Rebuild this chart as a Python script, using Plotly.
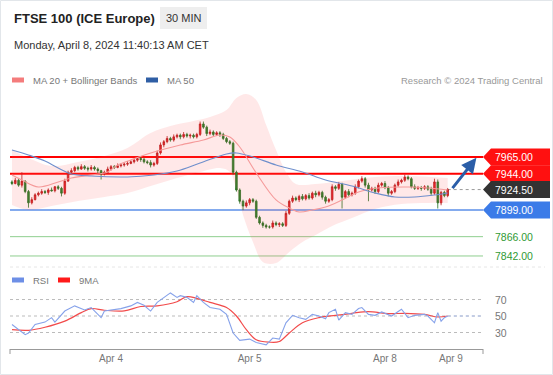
import plotly.graph_objects as go

W, H = 553, 375

# ---------------- data ----------------
first_open = 7934
closes = [7932, 7936, 7930, 7935, 7922, 7908, 7912, 7918, 7920, 7922,
          7921, 7924, 7923, 7928, 7926, 7920, 7935, 7946, 7948, 7952,
          7950, 7953, 7951, 7950, 7952, 7950, 7948, 7944, 7946, 7950,
          7953, 7952, 7954, 7955, 7956, 7957, 7959, 7961, 7963, 7962,
          7959, 7958, 7955, 7957, 7970, 7980, 7984, 7988, 7986, 7990,
          7992, 7990, 7993, 7991, 7992, 7990, 7993, 8006, 8002, 7994,
          7996, 7993, 7995, 7993, 7988, 7984, 7982, 7946, 7924, 7910,
          7904, 7908, 7912, 7910, 7890, 7883, 7880, 7878, 7878, 7883,
          7881, 7882, 7880, 7895, 7910, 7914, 7912, 7916, 7913, 7917,
          7914, 7920, 7918, 7921, 7915, 7910, 7912, 7928, 7926, 7931,
          7915, 7922, 7918, 7920, 7928, 7935, 7938, 7930, 7924, 7926,
          7922, 7930, 7932, 7927, 7920, 7922, 7930, 7934, 7936, 7940,
          7938, 7928, 7926, 7927, 7926, 7928, 7925, 7920, 7934, 7908,
          7921, 7917, 7924.5]
upper_wick = [2, 3, 2, 11, 1, 2, 3, 2, 2, 3,
              2, 2, 3, 1, 2, 2, 3, 2, 3, 2,
              2, 3, 2, 2, 3, 2, 2, 1, 2, 3,
              2, 2, 3, 2, 2, 3, 2, 2, 3, 2,
              2, 2, 3, 2, 3, 3, 2, 3, 2, 3,
              2, 2, 3, 2, 2, 2, 2, 3, 3, 2,
              3, 2, 2, 2, 2, 2, 2, 2, 2, 2,
              2, 3, 2, 2, 2, 2, 2, 2, 2, 3,
              2, 2, 2, 3, 2, 3, 2, 2, 3, 2,
              3, 2, 3, 2, 2, 2, 2, 3, 2, 3,
              2, 2, 3, 2, 3, 2, 3, 2, 3, 2,
              2, 3, 2, 3, 2, 2, 2, 3, 2, 3,
              2, 2, 3, 2, 2, 2, 2, 3, 4, 3,
              2, 2, 2]
lower_wick = [2, 1, 2, 3, 2, 6, 2, 1, 2, 2,
              2, 3, 1, 2, 2, 4, 2, 1, 2, 2,
              2, 1, 2, 3, 2, 2, 3, 7, 2, 2,
              2, 2, 1, 2, 2, 2, 1, 2, 2, 3,
              2, 2, 3, 2, 2, 2, 3, 2, 2, 2,
              2, 3, 2, 2, 3, 2, 2, 2, 2, 3,
              2, 2, 2, 3, 2, 2, 2, 3, 2, 3,
              5, 2, 3, 2, 2, 2, 3, 2, 2, 2,
              2, 3, 2, 2, 2, 2, 2, 3, 2, 2,
              2, 2, 3, 2, 3, 3, 2, 2, 3, 2,
              14, 2, 3, 2, 2, 2, 2, 3, 14, 2,
              3, 2, 2, 2, 4, 2, 2, 2, 2, 2,
              2, 2, 2, 2, 3, 2, 2, 3, 2, 7,
              3, 2, 2]

ma20_idx = [0, 3, 8, 14, 18, 24, 29, 32, 36, 43, 51, 58, 63, 66, 69, 74, 80, 84, 87, 91, 95, 100, 105, 111, 120, 126, 132]
ma20_val = [7942.6, 7936.4, 7927.7, 7933.9, 7938.9, 7942.6, 7946.4, 7955.1, 7961.3, 7971.2, 7979.9, 7986.1,
            7992.3, 7989.8, 7977.4, 7945.1, 7911.6, 7901.6, 7896.7, 7899.2, 7902.9, 7911.6, 7921.5, 7926.5,
            7927.7, 7926.5, 7924.0]

bb_up_idx = [0, 5, 12, 20, 28, 35, 42, 48, 55, 60, 65, 68, 71, 74, 77, 80, 83, 86, 92, 100, 110, 120, 132]
bb_up_val = [7973.7, 7963.8, 7953.8, 7958.8, 7966.2, 7976.2, 7994.8, 8003.5, 8009.7, 8014.7, 8023.4, 8038.3,
             8043.3, 8035.8, 8004.8, 7973.7, 7946.4, 7931.5, 7931.5, 7935.2, 7940.2, 7941.4, 7938.9]
bb_lo_idx = [0, 5, 12, 20, 28, 35, 43, 50, 57, 63, 66, 68, 70, 73, 76, 80, 84, 88, 92, 97, 103, 110, 118, 126, 132]
bb_lo_val = [7905.4, 7899.2, 7904.1, 7910.3, 7915.3, 7920.3, 7930.2, 7938.9, 7946.4, 7951.3, 7946.4, 7924.0,
             7893.0, 7859.4, 7834.6, 7833.3, 7847.0, 7859.4, 7868.1, 7879.3, 7889.2, 7900.4, 7906.6, 7907.9, 7907.9]

ma50_idx = [0, 5, 10, 14, 18, 24, 35, 43, 50, 57, 65, 68, 73, 80, 88, 95, 103, 110, 116, 122, 128, 132]
ma50_val = [7973.7, 7967.5, 7960.0, 7951.3, 7943.9, 7941.4, 7940.2, 7942.6, 7947.6, 7957.5, 7968.7, 7970.0,
            7965.0, 7955.1, 7946.4, 7936.4, 7929.0, 7920.3, 7915.3, 7915.3, 7917.8, 7920.3]

rsi_idx = [0, 2, 4, 5, 7, 10, 12, 13, 16, 19, 22, 24, 27, 28, 31, 33, 36, 38, 40, 42, 44, 46, 48, 50, 51,
           53, 55, 56, 58, 60, 63, 65, 67, 69, 72, 74, 77, 79, 81, 83, 85, 87, 89, 91, 93, 95, 96, 98, 99,
           101, 103, 105, 106, 108, 110, 112, 114, 115, 118, 120, 122, 125, 126, 128, 129, 130, 131, 132]
rsi_val = [39.7, 33.5, 27.4, 29.4, 39.7, 42.6, 48, 42.6, 56, 62.3, 57.4, 60.3, 48, 56, 57.4, 59, 62.3, 66.5,
           63, 56, 66.5, 72.6, 78, 72.6, 74.7, 72.6, 66.5, 74.7, 66.5, 60.3, 58.2, 52, 29.4, 20.4, 22, 17.9,
           15, 23.3, 22, 41.8, 50.8, 48, 45.9, 52, 50, 46.7, 54.1, 58.2, 45, 54.1, 52, 59, 60.3, 52, 50.8,
           54.9, 52, 50, 58.2, 48, 50.8, 52, 50, 41.8, 54.1, 43.8, 48, 50]
ma9_idx = [0, 5, 10, 16, 21, 24, 28, 34, 39, 44, 50, 53, 56, 60, 65, 68, 71, 74, 78, 81, 84, 88, 93, 98, 103,
           108, 114, 119, 125, 129, 132]
ma9_val = [33.5, 32.7, 36.4, 43.8, 54.1, 59, 57, 56.2, 61.5, 62.3, 67.3, 73.5, 71.4, 66.5, 60.3, 50, 33.5,
           21.2, 18.3, 19.1, 29.4, 41.8, 48, 50.8, 53.3, 55.3, 52.9, 53.3, 52, 48.8, 50]

tick_vals = [30, 72, 113, 133]
tick_text = ["Apr 4", "Apr 5", "Apr 8", "Apr 9"]

resistance = [7965.00, 7944.00]
last_price = 7924.50
pivot = 7899.00
supports = [7866.00, 7842.00]
rsi_levels = [70, 50, 30]

# ---------------- derived ----------------
n = len(closes)
idx = list(range(n))
opens = [first_open] + closes[:-1]
highs = [max(o, c) + u for o, c, u in zip(opens, closes, upper_wick)]
lows = [min(o, c) - l for o, c, l in zip(opens, closes, lower_wick)]

X0, X1 = 10, 483                # px of plot area
PY0, PY1 = 92, 265              # price panel px (top, bottom)
RY0, RY1 = 285, 349             # rsi panel px
x_range = [-0.6, 142.7]
p_range = [7830.8, 8045.7]
r_range = [10, 87.6]
ppp = (p_range[1] - p_range[0]) / (PY1 - PY0)   # price per pixel

def px(x):
    return x / W

def py(y):
    return 1 - y / H

FONT = "Liberation Sans, Arial, sans-serif"

fig = go.Figure()

# Bollinger band fill
fig.add_trace(go.Scatter(x=bb_up_idx, y=bb_up_val, mode="lines", line=dict(width=0, shape="spline", smoothing=1.0),
                         hoverinfo="skip", showlegend=False, xaxis="x", yaxis="y"))
fig.add_trace(go.Scatter(x=bb_lo_idx, y=bb_lo_val, mode="lines", line=dict(width=0, shape="spline", smoothing=1.0),
                         fill="tonexty", fillcolor="rgba(255,90,90,0.14)", hoverinfo="skip", showlegend=False,
                         xaxis="x", yaxis="y"))
# MA20 / MA50
fig.add_trace(go.Scatter(x=ma20_idx, y=ma20_val, mode="lines", line=dict(color="#f59a9a", width=1.1, shape="spline"),
                         showlegend=False, xaxis="x", yaxis="y"))
fig.add_trace(go.Scatter(x=ma50_idx, y=ma50_val, mode="lines", line=dict(color="#6f8fcc", width=1.1, shape="spline"),
                         showlegend=False, xaxis="x", yaxis="y"))

# level lines
shapes = []
for lv in resistance:
    shapes.append(dict(type="line", xref="paper", yref="y", x0=px(X0), x1=px(X1), y0=lv, y1=lv,
                       line=dict(color="#ff0000", width=2), layer="below"))
shapes.append(dict(type="line", xref="paper", yref="y", x0=px(X0), x1=px(X1), y0=pivot, y1=pivot,
                   line=dict(color="#5b8fe8", width=1.5), layer="below"))
for lv in supports:
    shapes.append(dict(type="line", xref="paper", yref="y", x0=px(X0), x1=px(X1), y0=lv, y1=lv,
                       line=dict(color="#8fcf8f", width=1), layer="below"))
shapes.append(dict(type="line", xref="x", yref="y", x0=n - 1, x1=x_range[1], y0=last_price, y1=last_price,
                   line=dict(color="#9a9a9a", width=1, dash="dot"), layer="below"))

# candles (red = up, green = down)
fig.add_trace(go.Candlestick(x=idx, open=opens, high=highs, low=lows, close=closes,
                             increasing=dict(line=dict(color="#b51818", width=0.8), fillcolor="#ee1c24"),
                             decreasing=dict(line=dict(color="#1d6e1d", width=0.8), fillcolor="#22882a"),
                             whiskerwidth=0, showlegend=False, xaxis="x", yaxis="y", hoverinfo="skip"))

# RSI
for lv in rsi_levels:
    shapes.append(dict(type="line", xref="paper", yref="y2", x0=px(X0), x1=px(X1), y0=lv, y1=lv,
                       line=dict(color="#bbbbbb", width=1, dash="dot"), layer="below"))
shapes.append(dict(type="line", xref="x2", yref="y2", x0=n - 1, x1=x_range[1], y0=rsi_val[-1], y1=rsi_val[-1],
                   line=dict(color="#a9bcec", width=1, dash="dot"), layer="below"))
fig.add_trace(go.Scatter(x=ma9_idx, y=ma9_val, mode="lines", line=dict(color="#f24b4b", width=1.2, shape="spline"),
                         showlegend=False, xaxis="x2", yaxis="y2"))
fig.add_trace(go.Scatter(x=rsi_idx, y=rsi_val, mode="lines", line=dict(color="#86a2ea", width=1.1),
                         showlegend=False, xaxis="x2", yaxis="y2"))

# price label boxes
ann = []
hh = 8.5 * ppp
tip = 8 / W
bx0, bx1 = px(X1), px(550)
boxes = [(resistance[0], "#ff1010"), (resistance[1], "#ff1010"), (last_price, "#333333"), (pivot, "#3b7be8")]
for lv, col in boxes:
    path = (f"M {bx0},{lv} L {bx0 + tip},{lv + hh} L {bx1},{lv + hh} L {bx1},{lv - hh} "
            f"L {bx0 + tip},{lv - hh} Z")
    shapes.append(dict(type="path", xref="paper", yref="y", path=path, fillcolor=col, line=dict(width=0)))
    ann.append(dict(x=px(493), y=lv, xref="paper", yref="y", text=f"{lv:.2f}", showarrow=False,
                    xanchor="left", yanchor="middle", font=dict(family=FONT, size=10.5, color="white")))
for lv in supports:
    ann.append(dict(x=px(493), y=lv, xref="paper", yref="y", text=f"{lv:.2f}", showarrow=False,
                    xanchor="left", yanchor="middle", font=dict(family=FONT, size=10.5, color="#2f9a35")))
for lv in rsi_levels:
    ann.append(dict(x=px(493), y=lv, xref="paper", yref="y2", text=str(lv), showarrow=False,
                    xanchor="left", yanchor="middle", font=dict(family=FONT, size=10.5, color="#777777")))

# forecast arrow
ann.append(dict(x=n - 1 + 8.7, y=resistance[0] - 1, ax=n - 1 + 1.1, ay=last_price, xref="x", yref="y",
                axref="x", ayref="y", showarrow=True, arrowhead=2, arrowsize=1, arrowwidth=3,
                arrowcolor="#2b5ea8", text=""))

# header
shapes.append(dict(type="rect", xref="paper", yref="paper", x0=px(160), x1=px(207), y0=py(29), y1=py(7),
                   fillcolor="#eeeeee", line=dict(width=0)))
ann.append(dict(x=px(12), y=py(18), xref="paper", yref="paper", text="<b>FTSE 100 (ICE Europe)</b>",
                showarrow=False, xanchor="left", yanchor="middle", font=dict(family=FONT, size=13, color="#222222")))
ann.append(dict(x=px(183.5), y=py(18), xref="paper", yref="paper", text="30 MIN", showarrow=False,
                xanchor="center", yanchor="middle", font=dict(family=FONT, size=11, color="#333333")))
ann.append(dict(x=px(12), y=py(45), xref="paper", yref="paper", text="Monday, April 8, 2024 11:40:13 AM CET",
                showarrow=False, xanchor="left", yanchor="middle", font=dict(family=FONT, size=11, color="#333333")))

# legends
def legend_item(x, y, color, label):
    shapes.append(dict(type="rect", xref="paper", yref="paper", x0=px(x), x1=px(x + 12), y0=py(y + 2.5),
                       y1=py(y - 2.5), fillcolor=color, line=dict(width=0)))
    ann.append(dict(x=px(x + 19), y=py(y), xref="paper", yref="paper", text=label, showarrow=False,
                    xanchor="left", yanchor="middle", font=dict(family=FONT, size=9.5, color="#777777")))

legend_item(12, 80, "#f47c7c", "MA 20 + Bollinger Bands")
legend_item(146, 80, "#2f5ea5", "MA 50")
legend_item(12, 280, "#6d8fe6", "RSI")
legend_item(58, 280, "#ff1a1a", "9MA")
ann.append(dict(x=px(545), y=py(80), xref="paper", yref="paper", text="Research © 2024 Trading Central",
                showarrow=False, xanchor="right", yanchor="middle", font=dict(family=FONT, size=9.5, color="#999999")))

# panel separator, axis end caps, card border
shapes.append(dict(type="line", xref="paper", yref="paper", x0=px(10), x1=px(545), y0=py(267), y1=py(267),
                   line=dict(color="#e6e6e6", width=1, dash="dot")))
for xc in (X0, X1):
    shapes.append(dict(type="line", xref="paper", yref="paper", x0=px(xc), x1=px(xc), y0=py(349), y1=py(354),
                       line=dict(color="#999999", width=1)))
shapes.append(dict(type="rect", xref="paper", yref="paper", x0=px(0.5), x1=px(552.5), y0=py(374.5), y1=py(0.5),
                   line=dict(color="#e2e6ea", width=1)))

fig.update_layout(
    width=W, height=H, autosize=False,
    margin=dict(l=0, r=0, t=0, b=0),
    paper_bgcolor="white", plot_bgcolor="white",
    showlegend=False,
    xaxis=dict(domain=[px(X0), px(X1)], range=x_range, visible=False, rangeslider=dict(visible=False),
               fixedrange=True),
    yaxis=dict(domain=[py(PY1), py(PY0)], range=p_range, visible=False, fixedrange=True),
    xaxis2=dict(domain=[px(X0), px(X1)], range=x_range, anchor="y2", showline=True, linecolor="#999999",
                linewidth=1, showgrid=False, zeroline=False, ticks="", tickvals=tick_vals, ticktext=tick_text,
                tickfont=dict(family=FONT, size=10, color="#777777"), fixedrange=True),
    yaxis2=dict(domain=[py(RY1), py(RY0)], range=r_range, visible=False, fixedrange=True),
    shapes=shapes, annotations=ann,
)

fig.write_html("out.html", config={"displayModeBar": False},
               post_script="document.body.style.margin='0';document.body.style.overflow='hidden';")
